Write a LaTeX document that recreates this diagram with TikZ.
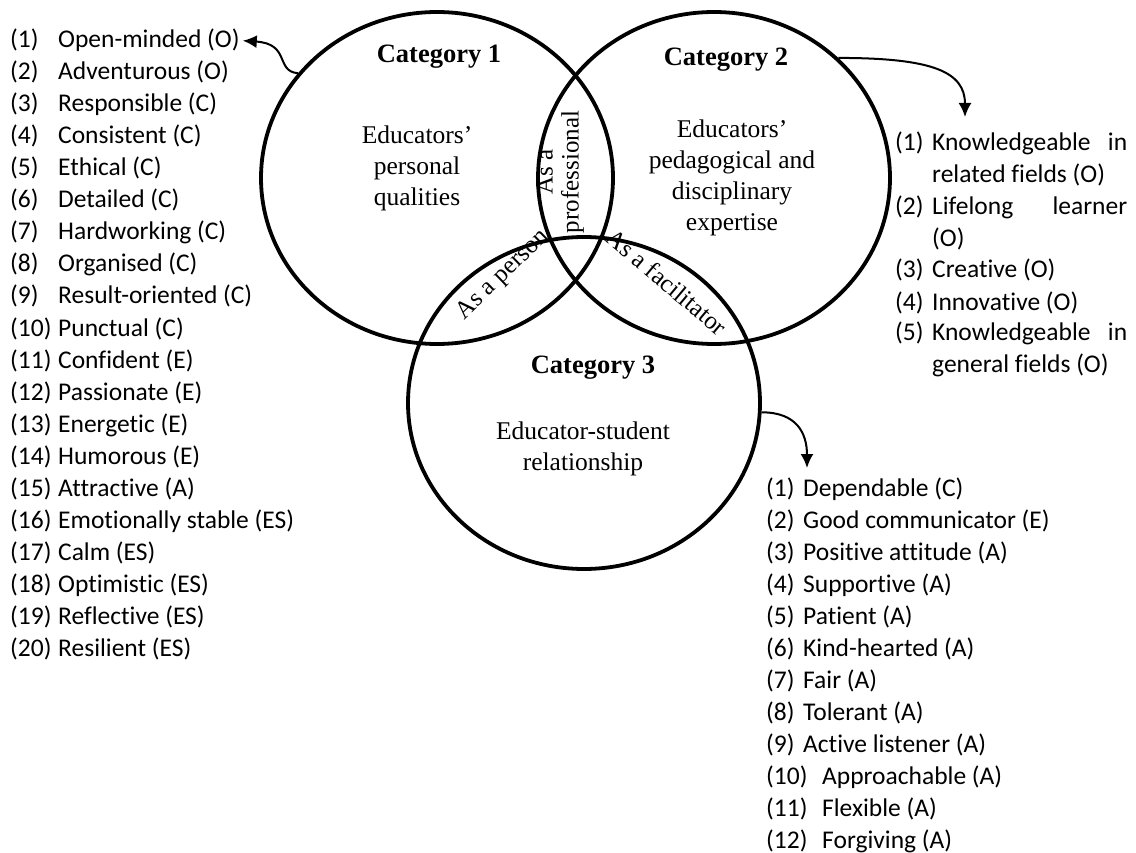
\documentclass[tikz,border=0pt]{standalone}
\usepackage{fontspec}
\setmainfont{Liberation Serif}
\newfontfamily\listfont[Ligatures=NoCommon]{Carlito}
\usetikzlibrary{shapes.geometric, arrows.meta}

\begin{document}
\begin{tikzpicture}[x=1pt, y=-1pt,
    circ/.style={ellipse, draw, line width=3.8pt, minimum width=352, minimum height=332, inner sep=0pt},
    cat/.style={font=\fontsize{26.5}{31}\selectfont\bfseries},
    desc/.style={font=\fontsize{25.5}{31}\selectfont, align=center},
    ovl/.style={font=\fontsize{25}{26}\selectfont, align=center, inner sep=0pt},
    item/.style={font=\listfont\fontsize{25.5}{32}\selectfont, anchor=base west, inner sep=0pt},
    link/.style={-{Latex[length=14pt, width=13pt]}, line width=2pt},
]
\useasboundingbox (0,0) rectangle (1136,853);

% Three categories
\node[circ] (C1) at (437,178) {};
\node[circ] (C2) at (714,178) {};
\node[circ] (C3) at (584,403) {};

\node[cat] (T1) at (439,57) {Category 1};
\node[cat] (T2) at (726,60) {Category 2};
\node[cat] (T3) at (593,368) {Category 3};

\node[desc] (D1) at (417,168) {Educators’\\personal\\qualities};
\node[desc] (D2) at (732,178) {Educators’\\pedagogical and\\disciplinary\\expertise};
\node[desc] (D3) at (583,449) {Educator-student\\relationship};

% Overlaps
\node[ovl, rotate=90] (O12) at (560,172) {As a\\professional};
\node[ovl, rotate=44] (O13) at (503,275) {As a person};
\node[ovl, rotate=-40] (O23) at (667,282) {As a facilitator};

% Category 1 qualities
\foreach \q [count=\i] in {Open-minded (O), Adventurous (O), Responsible (C), Consistent (C),
    Ethical (C), Detailed (C), Hardworking (C), Organised (C), Result-oriented (C), Punctual (C),
    Confident (E), Passionate (E), Energetic (E), Humorous (E), Attractive (A),
    Emotionally stable (ES), Calm (ES), Optimistic (ES), Reflective (ES), Resilient (ES)}
  \node[item] (P\i) at (10,16+32*\i) {\makebox[48pt][l]{(\i)}\q};

% Category 2 qualities
\node[item] (K1) at (895,151) {\makebox[37pt][l]{(1)}\parbox[t]{195pt}{\makebox[195pt][s]{Knowledgeable in}\\related fields (O)}};
\node[item] (K2) at (895,215) {\makebox[37pt][l]{(2)}\parbox[t]{195pt}{\makebox[195pt][s]{Lifelong learner}\\(O)}};
\node[item] (K3) at (895,278) {\makebox[37pt][l]{(3)}Creative (O)};
\node[item] (K4) at (895,310) {\makebox[37pt][l]{(4)}Innovative (O)};
\node[item] (K5) at (895,341) {\makebox[37pt][l]{(5)}\parbox[t]{195pt}{\makebox[195pt][s]{Knowledgeable in}\\general fields (O)}};

% Category 3 qualities
\foreach \q [count=\i] in {Dependable (C), Good communicator (E), Positive attitude (A),
    Supportive (A), Patient (A), Kind-hearted (A), Fair (A), Tolerant (A), Active listener (A)}
  \node[item] (R\i) at (766,464+32*\i) {\makebox[37pt][l]{(\i)}\q};
\foreach \q [count=\i from 10] in {Approachable (A), Flexible (A), Forgiving (A)}
  \node[item] (R\i) at (766,464+32*\i) {\makebox[56pt][l]{(\i)}\q};

% Pointers to the lists
\coordinate (k) at (965,117);
\coordinate (r) at (807,468);
\draw[link] (C1.143) .. controls +(-23,-2) and +(48,3) .. ([xshift=3pt]P1.east);
\draw[link] (C2.44) .. controls +(95,0) and +(0,-45) .. (k);
\draw[link] (C3.-3) .. controls +(35,0) and +(0,-35) .. (r);
\end{tikzpicture}
\end{document}
